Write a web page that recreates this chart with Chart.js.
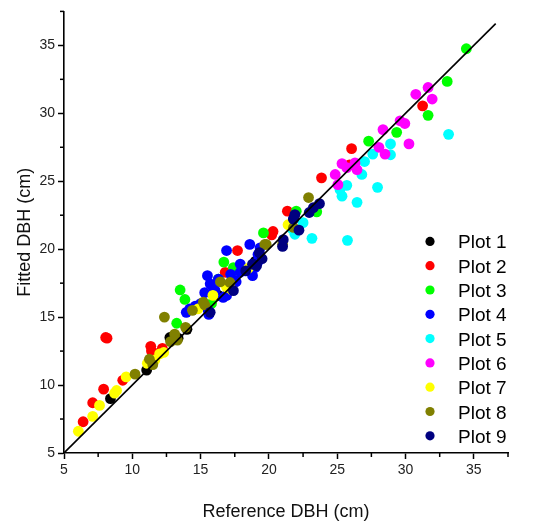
<!DOCTYPE html>
<html>
<head>
<meta charset="utf-8">
<script src="https://cdn.jsdelivr.net/npm/chart.js@4.4.1/dist/chart.umd.min.js"></script>
<style>
  html, body { margin: 0; padding: 0; background: #fff; }
  #wrap { width: 550px; height: 523px; }
</style>
</head>
<body>
<div id="wrap"><canvas id="dbhChart"></canvas></div>
<script>
// Parcelas y colores
const plotNames = ['Plot 1', 'Plot 2', 'Plot 3', 'Plot 4', 'Plot 5', 'Plot 6', 'Plot 7', 'Plot 8', 'Plot 9'];
const plotColors = ['#000000', '#ff0000', '#00ff00', '#0000ff', '#00ffff', '#ff00ff', '#ffff00', '#808000', '#000080'];

// [DBH referencia, DBH ajustado] en cm
const plot1 = [[8.4, 9.0], [11.05, 11.1], [12.75, 13.5], [13.35, 13.45], [14.0, 14.1], [16.3, 16.6], [17.0, 17.3], [19.0, 19.1]];
const plot2 = [[6.4, 7.3], [7.1, 8.7], [7.9, 9.7], [9.3, 10.35], [8.05, 13.5], [8.15, 13.45], [11.35, 12.85], [11.6, 12.35],
               [12.2, 12.7], [11.4, 12.5], [16.8, 18.3], [17.7, 19.9], [20.3, 21.3], [20.2, 21.05], [21.35, 22.8],
               [23.85, 25.25], [25.9, 26.2], [26.05, 27.4], [31.25, 30.55]];
const plot3 = [[13.25, 14.55], [13.5, 17.0], [13.85, 16.3], [16.7, 19.05], [17.4, 18.65], [19.6, 21.2], [22.0, 22.8],
               [23.5, 22.75], [27.3, 27.95], [29.35, 28.6], [31.65, 29.85], [33.05, 32.35], [34.45, 34.75],
               [16.3, 17.8], [15.8, 16.0], [18.0, 18.4]];
const plot4 = [[13.95, 15.35], [14.6, 15.8], [15.3, 16.8], [15.5, 18.05], [15.6, 15.2], [16.0, 17.05], [16.65, 16.45],
               [17.2, 18.15], [16.9, 19.9], [17.9, 18.9], [19.0, 18.65], [18.8, 18.05], [19.2, 19.6], [19.35, 20.1],
               [18.6, 20.35], [14.2, 15.6], [15.0, 16.0], [16.3, 17.8], [17.6, 17.6], [15.7, 17.45], [16.05, 16.95],
               [17.15, 17.1], [17.5, 17.7], [17.9, 18.3], [19.2, 19.1], [16.9, 16.6], [15.55, 15.5]];
const plot5 = [[21.9, 21.1], [22.5, 21.95], [23.15, 20.8], [25.75, 20.65], [25.35, 23.9], [26.45, 23.45], [25.7, 24.7],
               [27.95, 24.55], [26.8, 25.5], [27.0, 26.45], [27.6, 27.0], [28.9, 27.75], [28.9, 26.95], [33.15, 28.45],
               [21.7, 21.5], [25.2, 24.4]];
const plot6 = [[24.85, 25.5], [25.05, 24.75], [25.35, 26.3], [25.7, 26.0], [26.3, 26.35], [26.45, 25.85], [28.05, 27.5],
               [28.5, 27.0], [28.35, 28.8], [29.6, 29.45], [29.95, 29.25], [30.25, 27.75], [30.75, 31.4], [31.65, 31.9],
               [31.95, 31.05]];
const plot7 = [[6.05, 6.6], [7.1, 7.7], [7.6, 8.5], [8.85, 9.6], [8.7, 9.4], [9.55, 10.6], [11.1, 11.6], [11.65, 11.85],
               [12.0, 12.3], [12.3, 12.4], [14.8, 15.6], [15.9, 16.6], [16.9, 17.2], [18.5, 18.6], [21.4, 21.8], [17.3, 17.0]];
const plot8 = [[10.2, 10.8], [11.25, 11.9], [12.35, 15.0], [13.1, 13.75], [13.9, 14.25], [14.4, 15.5], [15.3, 15.9],
               [16.45, 17.6], [17.15, 17.55], [19.8, 20.35], [21.0, 20.35], [21.8, 21.6], [22.9, 23.8], [13.3, 13.3],
               [12.8, 13.2], [11.5, 11.5], [15.2, 16.1], [19.7, 20.35]];
const plot9 = [[15.7, 15.35], [17.4, 16.95], [18.3, 18.4], [19.1, 18.8], [21.05, 20.7], [21.8, 22.2], [22.2, 21.4],
               [21.8, 22.25], [22.95, 22.7], [23.25, 23.05], [23.7, 23.35], [19.5, 19.3], [18.8, 18.9], [21.0, 20.2],
               [21.9, 22.55], [19.3, 19.75], [18.85, 18.9]];
const allPlots = [plot1, plot2, plot3, plot4, plot5, plot6, plot7, plot8, plot9];

// Linea 1:1
const oneToOne = [5, 36.6];

// Marcas de los ejes
const majorTicks = [5, 10, 15, 20, 25, 30, 35];
const minorTicks = [7.5, 12.5, 17.5, 22.5, 27.5, 32.5, 37.5];
const axisMin = 5;
const axisMax = 37.5;

const scatterSets = allPlots.map((pts, i) => ({
    type: 'scatter',
    label: plotNames[i],
    data: pts.map(p => ({ x: p[0], y: p[1] })),
    backgroundColor: plotColors[i],
    borderWidth: 0,
    pointRadius: 5.4,
    pointHoverRadius: 5.4,
    order: 9 - i
}));

const lineSet = {
    type: 'line',
    label: '1:1',
    data: oneToOne.map(v => ({ x: v, y: v })),
    borderColor: '#000',
    borderWidth: 1.6,
    pointRadius: 0,
    order: -1
};

// Marcas menores de los ejes
const minorTickPlugin = {
    id: 'minorTicks',
    afterDraw(chart) {
        const ctx = chart.ctx;
        const xs = chart.scales.x, ys = chart.scales.y;
        ctx.save();
        ctx.strokeStyle = '#000';
        ctx.lineWidth = 1.5;
        minorTicks.forEach(v => {
            const px = xs.getPixelForValue(v);
            ctx.beginPath();
            ctx.moveTo(px, xs.top);
            ctx.lineTo(px, xs.top + 4);
            ctx.stroke();
            const py = ys.getPixelForValue(v);
            ctx.beginPath();
            ctx.moveTo(ys.right, py);
            ctx.lineTo(ys.right - 4, py);
            ctx.stroke();
        });
        ctx.restore();
    }
};

// Leyenda dentro del area del grafico
const plotLegendPlugin = {
    id: 'plotLegend',
    afterDraw(chart) {
        const ctx = chart.ctx;
        const area = chart.chartArea;
        const mx = area.right - 78;
        let y = area.top + 230;
        ctx.save();
        ctx.font = '19px "Liberation Sans", Arial, sans-serif';
        ctx.textBaseline = 'alphabetic';
        ctx.textAlign = 'left';
        chart.data.datasets.filter(d => d.type === 'scatter').forEach(d => {
            ctx.fillStyle = d.backgroundColor;
            ctx.beginPath();
            ctx.arc(mx, y, 4.6, 0, Math.PI * 2);
            ctx.fill();
            ctx.fillStyle = '#000';
            ctx.fillText(d.label, mx + 28, y + 7);
            y += 24.3;
        });
        ctx.restore();
    }
};

function axisOptions(title, fixSize) {
    return {
        type: 'linear',
        min: axisMin,
        max: axisMax,
        afterBuildTicks: scale => { scale.ticks = majorTicks.map(v => ({ value: v })); },
        afterFit: fixSize,
        border: { display: true, color: '#000', width: 1.6 },
        grid: { drawOnChartArea: false, drawTicks: true, tickLength: 6, tickColor: '#000', tickWidth: 1.5 },
        ticks: {
            color: '#222',
            padding: 3,
            font: { family: '"Liberation Sans", Arial, sans-serif', size: 14 }
        },
        title: {
            display: true,
            text: title,
            color: '#111',
            padding: { top: 14, bottom: 0 },
            font: { family: '"Liberation Sans", Arial, sans-serif', size: 18 }
        }
    };
}

const ctx = document.getElementById('dbhChart').getContext('2d');
const dbhChart = new Chart(ctx, {
    data: { datasets: scatterSets.concat([lineSet]) },
    options: {
        responsive: true,
        maintainAspectRatio: false,
        animation: false,
        layout: { padding: { top: 9, right: 42, left: 0, bottom: 0 } },
        plugins: { legend: { display: false }, tooltip: { enabled: false } },
        scales: {
            x: axisOptions('Reference DBH (cm)', s => { s.height = 70; }),
            y: axisOptions('Fitted DBH (cm)', s => { s.width = 64; })
        }
    },
    plugins: [minorTickPlugin, plotLegendPlugin]
});
</script>
</body>
</html>
